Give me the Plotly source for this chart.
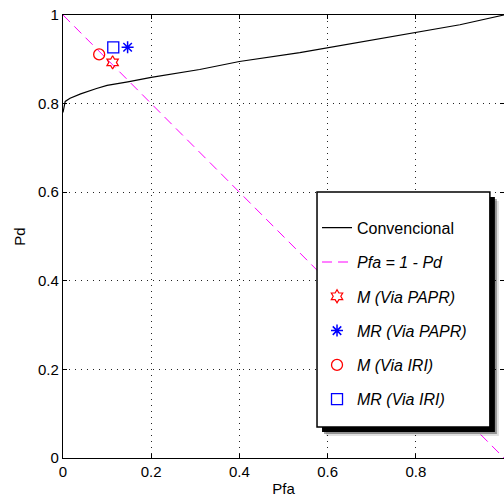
import plotly.graph_objects as go

# Data
conv_pfa = [0, 0.002, 0.005, 0.016, 0.04, 0.076, 0.1, 0.147, 0.2, 0.31, 0.4, 0.537, 0.6, 0.7, 0.8, 0.9, 1.0]
conv_pd = [0.78, 0.795, 0.805, 0.812, 0.822, 0.834, 0.841, 0.849, 0.859, 0.877, 0.895, 0.915, 0.926, 0.943, 0.96, 0.978, 1.0]
diag_pfa = [0, 1]
diag_pd = [1, 0]
m_papr = ([0.1125], [0.893])
mr_papr = ([0.1465], [0.927])
m_iri = ([0.082], [0.911])
mr_iri = ([0.114], [0.927])
ticks = [0, 0.2, 0.4, 0.6, 0.8, 1]
tick_text = ["0", "0.2", "0.4", "0.6", "0.8", "1"]

FONT = "Liberation Sans, Arial, sans-serif"

fig = go.Figure()
fig.add_trace(go.Scatter(x=conv_pfa, y=conv_pd, mode="lines", name="Convencional",
                         line=dict(color="black", width=1.2), legendgroup="a"))
fig.add_trace(go.Scatter(x=diag_pfa, y=diag_pd, mode="lines", name="<i>Pfa = 1 - Pd</i>",
                         line=dict(color="#FF00FF", width=1, dash="10px,6px"), legendgroup="b"))
fig.add_trace(go.Scatter(x=m_papr[0], y=m_papr[1], mode="markers", name="<i>M (Via PAPR)</i>",
                         marker=dict(symbol="hexagram-open", color="red", size=10, line=dict(width=1.2, color="red")),
                         legendgroup="c"))
fig.add_trace(go.Scatter(x=mr_papr[0], y=mr_papr[1], mode="markers", name="<i>MR (Via PAPR)</i>",
                         marker=dict(symbol="asterisk-open", color="blue", size=10, line=dict(width=1.5, color="blue")),
                         legendgroup="d"))
fig.add_trace(go.Scatter(x=m_iri[0], y=m_iri[1], mode="markers", name="<i>M (Via IRI)</i>",
                         marker=dict(symbol="circle-open", color="red", size=11, line=dict(width=1.3, color="red")),
                         legendgroup="e"))
fig.add_trace(go.Scatter(x=mr_iri[0], y=mr_iri[1], mode="markers", name="<i>MR (Via IRI)</i>",
                         marker=dict(symbol="square-open", color="blue", size=11, line=dict(width=1.3, color="blue")),
                         legendgroup="f"))

# legend box with shadow (paper coords)
bx0, bx1, by0, by1 = 0.576, 0.968, 0.070, 0.6005
dxp = 1 / 441
dyp = 1 / 443
shapes = []
for off, op in [(9, 0.12), (7, 0.35), (5, 1.0)]:
    shapes.append(dict(type="rect", xref="paper", yref="paper", layer="above",
                       x0=bx0 + off * dxp, x1=bx1 + off * dxp, y0=by0 - off * dyp, y1=by1 - off * dyp,
                       fillcolor="black", opacity=op, line=dict(width=0)))
shapes.append(dict(type="rect", xref="paper", yref="paper", layer="above",
                   x0=bx0, x1=bx1, y0=by0, y1=by1, fillcolor="white",
                   line=dict(color="black", width=1.5)))

axis_common = dict(range=[0, 1], tickvals=ticks, ticktext=tick_text, ticks="inside", ticklen=4,
                   tickcolor="black", showline=True, linecolor="black", linewidth=1.2, mirror="allticks",
                   showgrid=True, gridcolor="#222222", griddash="1px,5px", gridwidth=1,
                   zeroline=False, tickfont=dict(family=FONT, size=15, color="black"))

fig.update_layout(
    width=504, height=501,
    margin=dict(l=63, r=0, t=15, b=43),
    paper_bgcolor="white", plot_bgcolor="white",
    font=dict(family=FONT, size=15, color="black"),
    xaxis=dict(**axis_common, title=dict(text="Pfa", font=dict(size=15), standoff=4)),
    yaxis=dict(**axis_common, title=dict(text="Pd", font=dict(size=15), standoff=8)),
    shapes=shapes,
    showlegend=True,
    legend=dict(x=0.576, y=0.558, xanchor="left", yanchor="top", bgcolor="rgba(0,0,0,0)",
                borderwidth=0, font=dict(family=FONT, size=16, color="black"),
                tracegroupgap=10.5, traceorder="grouped"),
)

fig.write_html("out.html")
